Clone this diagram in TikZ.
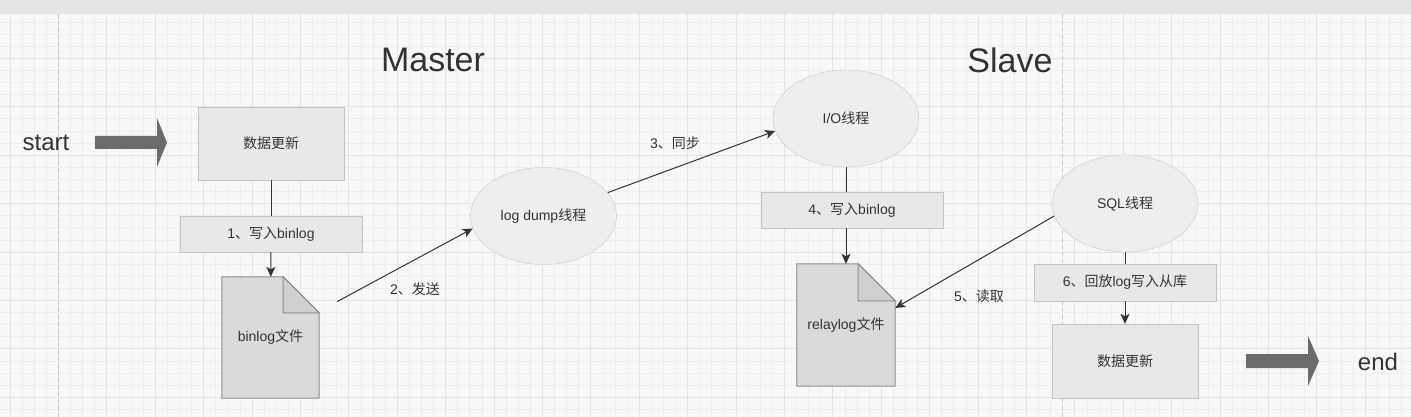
\documentclass[tikz,border=0pt]{standalone}
\usepackage{fontspec}
\setmainfont{Liberation Sans}
\newfontfamily\cjk{Noto Sans CJK SC}
\newcommand{\zhs}[1]{{\cjk #1}}
\usetikzlibrary{shapes.geometric,arrows.meta}
\pgfdeclarelayer{bg}
\pgfsetlayers{bg,main}
\definecolor{pagebg}{HTML}{F8F8F8}
\definecolor{topbar}{HTML}{E6E6E6}
\definecolor{minorline}{HTML}{EEEEEE}
\definecolor{majorline}{HTML}{E3E3E3}
\definecolor{ink}{HTML}{333333}
\definecolor{boxfill}{HTML}{E8E8E8}
\definecolor{boxline}{HTML}{C2C2C2}
\definecolor{elfill}{HTML}{EEEEEE}
\definecolor{elline}{HTML}{C8C8C8}
\definecolor{docfill}{HTML}{DADADA}
\definecolor{foldfill}{HTML}{D0D0D0}
\definecolor{docline}{HTML}{8E8E8E}
\definecolor{bigarrow}{HTML}{6B6B6B}

\begin{document}
\begin{tikzpicture}[x=1pt,y=-1pt]

      \tikzset{small/.style={text=ink, font=\fontsize{14}{16}\selectfont},
               box/.style={small, draw=boxline, fill=boxfill, inner sep=0pt, minimum width=146pt, minimum height=73pt},
               lblbox/.style={box, minimum width=182pt, minimum height=36pt},
               thread/.style={small, ellipse, draw=elline, fill=elfill, inner sep=0pt, minimum width=146pt, minimum height=97pt},
               doc/.style={small, inner sep=0pt, minimum width=97pt, minimum height=121pt},
               title/.style={text=ink, font=\fontsize{34}{40}\selectfont, inner sep=0pt},
               flow/.style={text=ink, font=\fontsize{24}{28}\selectfont, inner sep=0pt},
               note/.style={small, inner sep=0pt},
               conn/.style={draw=ink, line width=1pt},
               tip/.style={-{Stealth[length=10pt, width=9pt, inset=2.5pt]}},
               fatarrow/.style={fill=bigarrow},
               minor/.style={draw=minorline, line width=0.8pt},
               major/.style={draw=majorline, line width=1pt},
               divider/.style={draw=black!22, line width=1pt, dash pattern=on 4pt off 3pt}}
      \useasboundingbox (0,0) rectangle (1411,417);
%% Grid
      \begin{pgfonlayer}{bg}
        \fill[pagebg] (0,0) rectangle (1411,417);
        \foreach \i in {0,...,116} \draw[minor] ({10+12.1*\i},14) -- ({10+12.1*\i},417);
        \foreach \i in {1,...,33} \draw[minor] (0,{10+12.1*\i}) -- (1411,{10+12.1*\i});
        \foreach \i in {0,...,29} \draw[major] ({10+48.4*\i},14) -- ({10+48.4*\i},417);
        \foreach \i in {1,...,8} \draw[major] (0,{10+48.4*\i}) -- (1411,{10+48.4*\i});
        \draw[divider] (58.4,14) -- (58.4,417);
        \draw[divider] (1062,14) -- (1062,417);
        \fill[topbar] (0,0) rectangle (1411,14);
      \end{pgfonlayer}
%% Titles
      \node[title] (master) at (433,60) {Master};
      \node[title] (slave) at (1010,60) {Slave};
      \node[flow] (start) at (46,143) {start};
      \node[flow] (end) at (1378,362) {end};
      \fill[fatarrow] (95,136) -- (157,136) -- (157,118) -- (167,142.5) -- (157,167) -- (157,149) -- (95,149) -- cycle;
      \fill[fatarrow] (1246,354) -- (1308,354) -- (1308,336) -- (1319,361) -- (1308,386) -- (1308,368) -- (1246,368) -- cycle;
%% Master
      \node[box] (mupd) at (271,143.5) {\zhs{数据更新}};
      \node[lblbox] (lbl1) at (271,234) {1\zhs{、写入}binlog};
      \node[doc] (binlog) at (270.5,337.5) {binlog\zhs{文件}};
      \node[thread] (dump) at (543.5,216) {log dump\zhs{线程}};
%% Slave
      \node[thread] (io) at (846,118.5) {I/O\zhs{线程}};
      \node[lblbox] (lbl4) at (852,210) {4\zhs{、写入}binlog};
      \node[doc, minimum width=98pt, minimum height=122pt] (relay) at (846,325) {relaylog\zhs{文件}};
      \node[thread] (sql) at (1125,203.5) {SQL\zhs{线程}};
      \node[lblbox, minimum height=37pt] (lbl6) at (1125,282.5) {6\zhs{、回放}log\zhs{写入从库}};
      \node[box, minimum height=74pt] (supd) at (1125,361) {\zhs{数据更新}};
%% Files
      \begin{pgfonlayer}{bg}
        \foreach \d/\f in {binlog/36, relay/37} {
          \draw[docline, fill=docfill, line width=1pt] (\d.north west) -- ([xshift=-\f pt]\d.north east) -- ([yshift=-\f pt]\d.north east) -- (\d.south east) -- (\d.south west) -- cycle;
          \draw[docline, fill=foldfill, line width=1pt] ([xshift=-\f pt]\d.north east) -- ([xshift=-\f pt, yshift=-\f pt]\d.north east) -- ([yshift=-\f pt]\d.north east) -- cycle;
        }
      \end{pgfonlayer}
%Edges
      \draw[conn] (mupd) -- (lbl1);
      \draw[conn, tip] (lbl1) -- (binlog);
      \draw[conn, tip, shorten <=20.5pt] (binlog) -- (dump.190);
      \draw[conn, tip] (dump.20) -- (io.190);
      \draw[conn] (io.south) -- (io.south |- lbl4.north);
      \draw[conn, tip] (io.south |- lbl4.south) -- (relay.north);
      \draw[conn, tip] (sql.190) -- ([yshift=17pt]relay.east);
      \draw[conn] (sql) -- (lbl6);
      \draw[conn, tip] (lbl6) -- (supd);
%Edge labels
      \node[note] (send) at (415,289) {2\zhs{、发送}};
      \node[note] (sync) at (675,143) {3\zhs{、同步}};
      \node[note] (read) at (979,296) {5\zhs{、读取}};

\end{tikzpicture}
\end{document}
